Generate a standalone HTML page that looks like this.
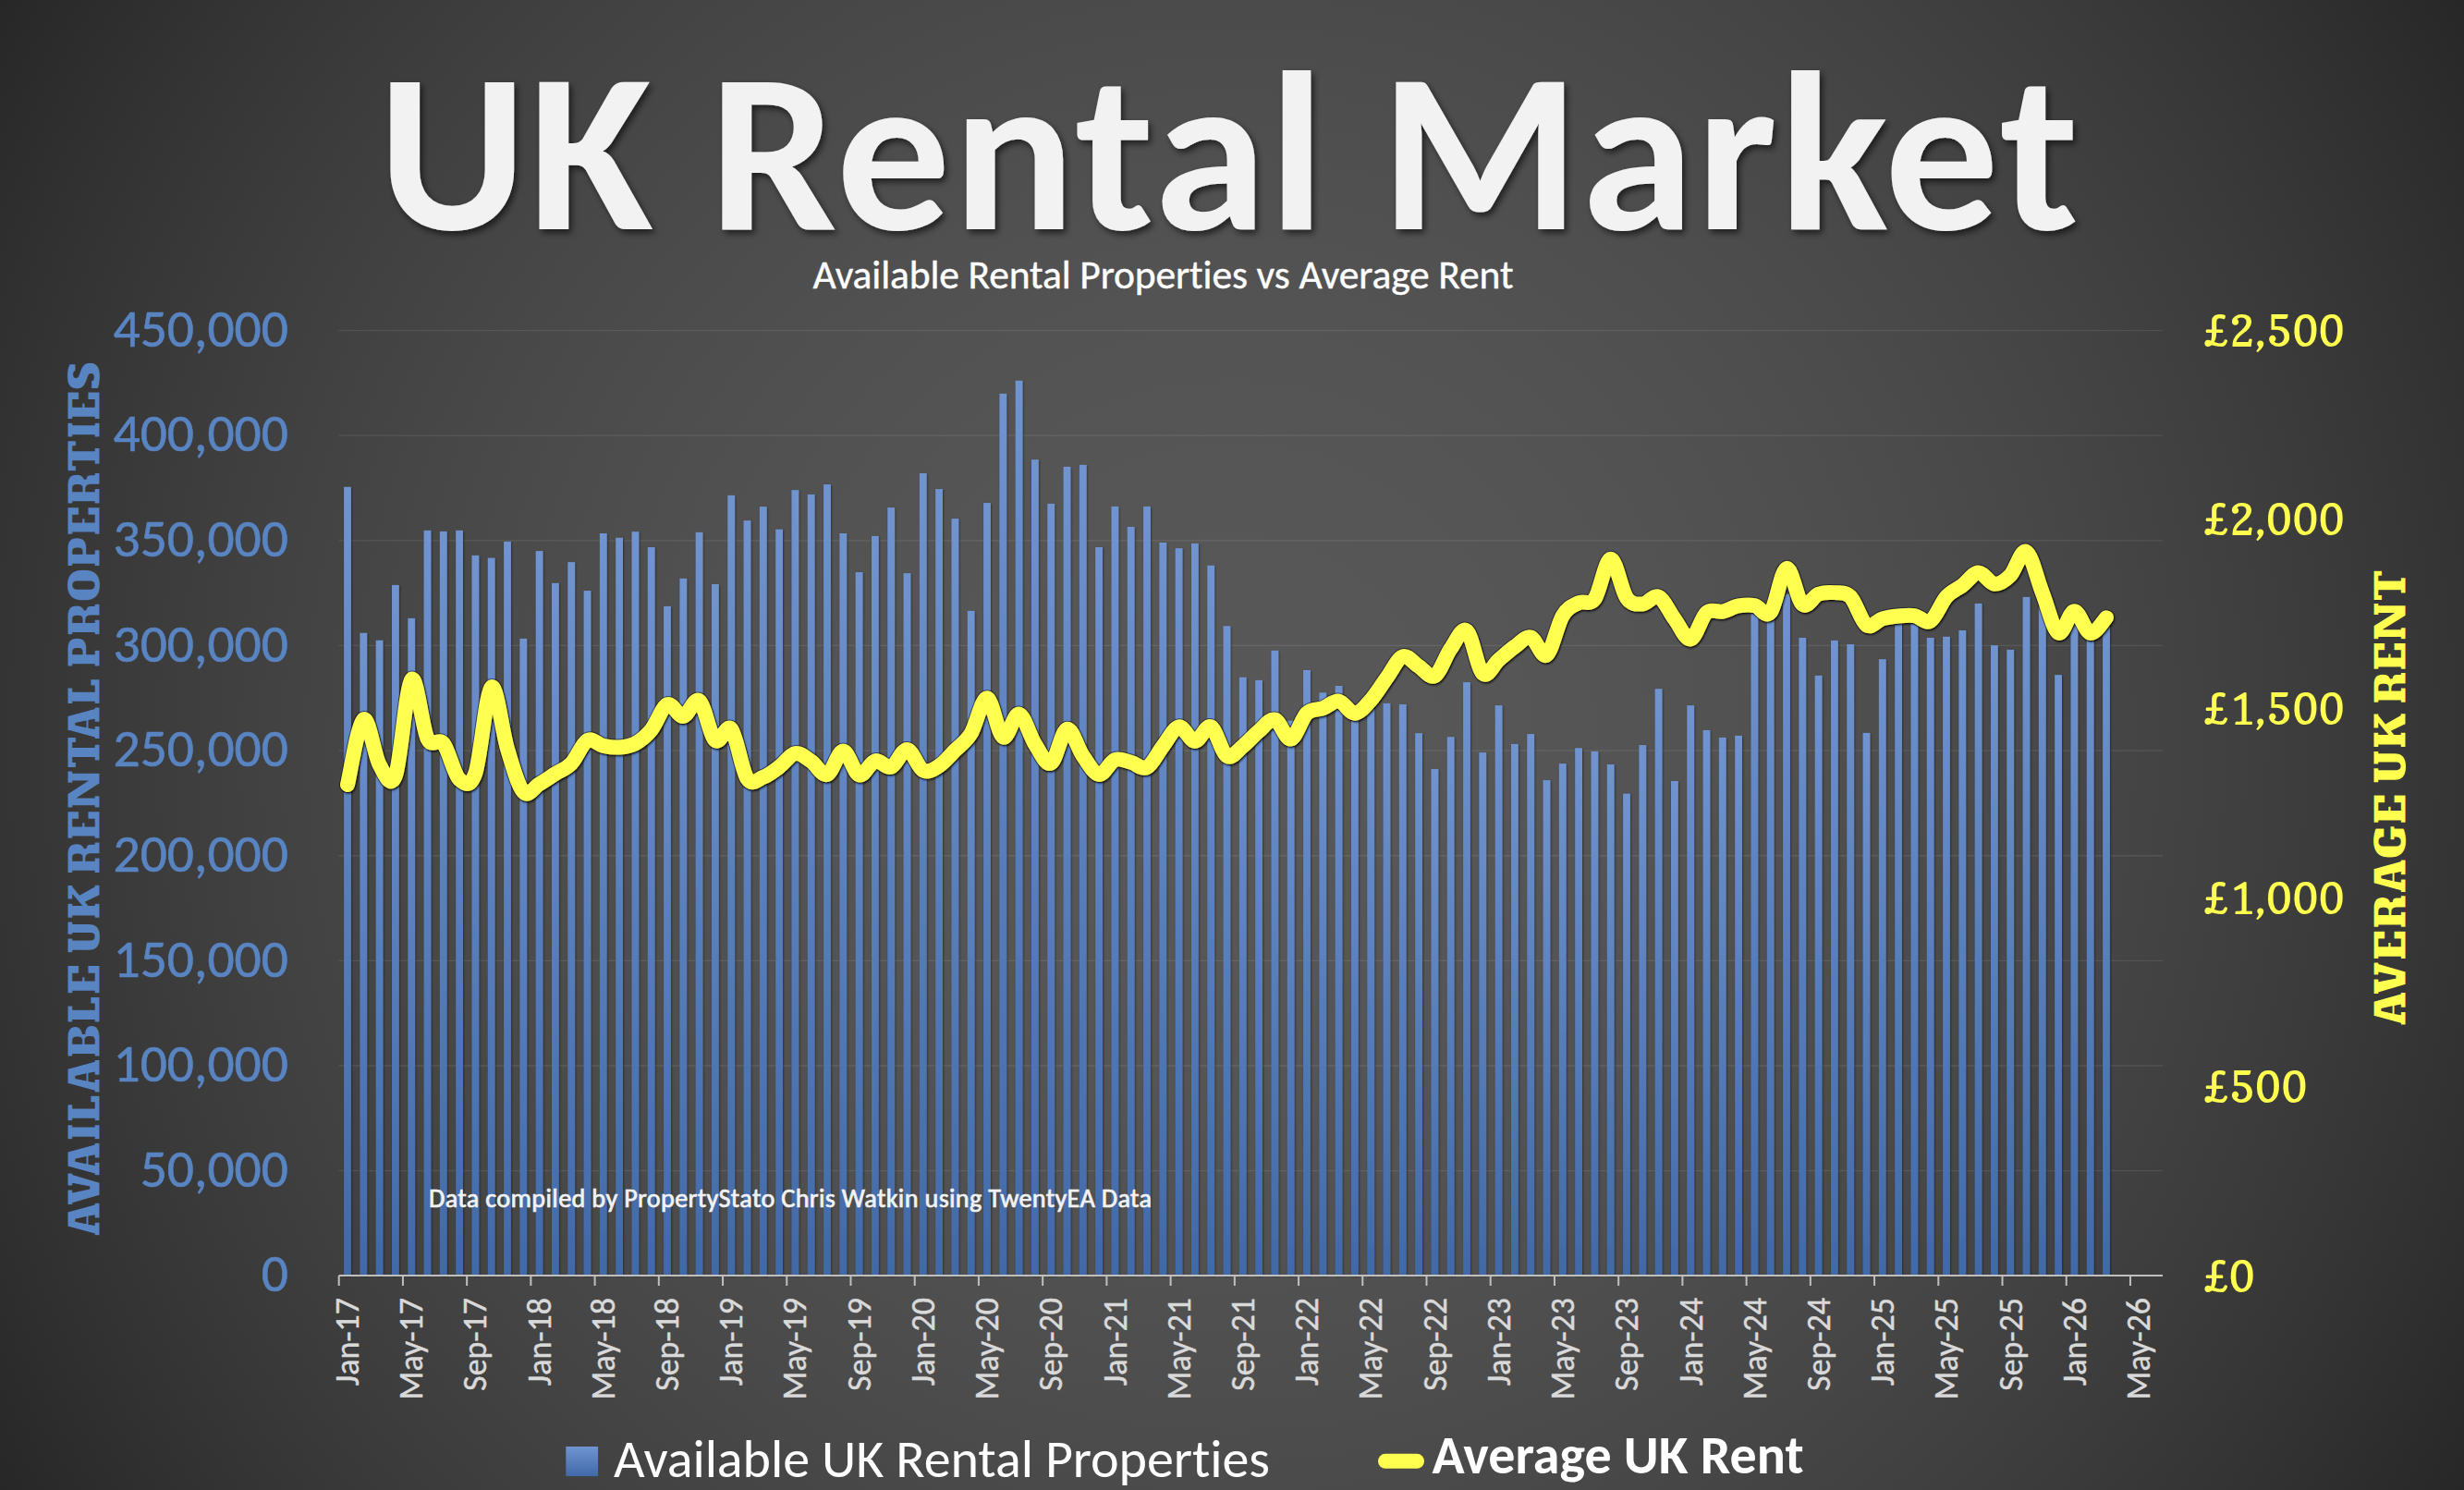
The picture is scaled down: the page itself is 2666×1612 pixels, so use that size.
<!DOCTYPE html>
<html><head><meta charset="utf-8"><title>UK Rental Market</title>
<style>
html,body{margin:0;padding:0;background:#2a2a2a;}
#page{position:relative;width:2666px;height:1612px;overflow:hidden;background:radial-gradient(circle at 1333px 806px, rgb(87.6,87.6,87.6) 0px, rgb(87.5,87.5,87.5) 80px, rgb(87.1,87.1,87.1) 160px, rgb(86.4,86.4,86.4) 240px, rgb(85.6,85.6,85.6) 320px, rgb(84.4,84.4,84.4) 400px, rgb(83.0,83.0,83.0) 480px, rgb(81.3,81.3,81.3) 560px, rgb(79.4,79.4,79.4) 640px, rgb(77.2,77.2,77.2) 720px, rgb(74.8,74.8,74.8) 800px, rgb(72.1,72.1,72.1) 880px, rgb(69.2,69.2,69.2) 960px, rgb(66.0,66.0,66.0) 1040px, rgb(62.5,62.5,62.5) 1120px, rgb(58.8,58.8,58.8) 1200px, rgb(54.8,54.8,54.8) 1280px, rgb(50.6,50.6,50.6) 1360px, rgb(46.1,46.1,46.1) 1440px, rgb(41.4,41.4,41.4) 1520px, rgb(36.4,36.4,36.4) 1600px);}
svg{position:absolute;left:0;top:0;}
text{font-kerning:normal;font-variant-ligatures:none;font-feature-settings:"liga" 0,"clig" 0;}
</style></head><body><div id="page">
<svg width="2666" height="1612" viewBox="0 0 2666 1612">
<defs>
<linearGradient id="gbar" x1="0" y1="0" x2="0" y2="1"><stop offset="0" stop-color="#7094d0"/><stop offset="1" stop-color="#4169a8"/></linearGradient>
<filter id="fbar" x="-50%" y="-5%" width="200%" height="110%"><feDropShadow dx="0.8" dy="1" stdDeviation="1.3" flood-color="#000" flood-opacity="0.45"/></filter>
<filter id="fline" x="-5%" y="-20%" width="110%" height="140%"><feDropShadow dx="1" dy="1.5" stdDeviation="1.2" flood-color="#000" flood-opacity="0.8"/></filter>
<filter id="ftitle" x="-5%" y="-20%" width="110%" height="140%"><feDropShadow dx="3" dy="4" stdDeviation="3.5" flood-color="#000" flood-opacity="0.6"/></filter>
<radialGradient id="gbg" gradientUnits="userSpaceOnUse" cx="1333" cy="806" r="1600"><stop offset="0.0000" stop-color="rgb(87.6,87.6,87.6)"/><stop offset="0.0500" stop-color="rgb(87.5,87.5,87.5)"/><stop offset="0.1000" stop-color="rgb(87.1,87.1,87.1)"/><stop offset="0.1500" stop-color="rgb(86.4,86.4,86.4)"/><stop offset="0.2000" stop-color="rgb(85.6,85.6,85.6)"/><stop offset="0.2500" stop-color="rgb(84.4,84.4,84.4)"/><stop offset="0.3000" stop-color="rgb(83.0,83.0,83.0)"/><stop offset="0.3500" stop-color="rgb(81.3,81.3,81.3)"/><stop offset="0.4000" stop-color="rgb(79.4,79.4,79.4)"/><stop offset="0.4500" stop-color="rgb(77.2,77.2,77.2)"/><stop offset="0.5000" stop-color="rgb(74.8,74.8,74.8)"/><stop offset="0.5500" stop-color="rgb(72.1,72.1,72.1)"/><stop offset="0.6000" stop-color="rgb(69.2,69.2,69.2)"/><stop offset="0.6500" stop-color="rgb(66.0,66.0,66.0)"/><stop offset="0.7000" stop-color="rgb(62.5,62.5,62.5)"/><stop offset="0.7500" stop-color="rgb(58.8,58.8,58.8)"/><stop offset="0.8000" stop-color="rgb(54.8,54.8,54.8)"/><stop offset="0.8500" stop-color="rgb(50.6,50.6,50.6)"/><stop offset="0.9000" stop-color="rgb(46.1,46.1,46.1)"/><stop offset="0.9500" stop-color="rgb(41.4,41.4,41.4)"/><stop offset="1.0000" stop-color="rgb(36.4,36.4,36.4)"/></radialGradient>
</defs>
<text x="409" y="248.4" font-family="Carlito, 'Liberation Sans', sans-serif" font-weight="bold" font-size="246" fill="#f2f2f2" textLength="1840" lengthAdjust="spacing" filter="url(#ftitle)">UK Rental Market</text>
<text x="879.5" y="311.9" font-family="Carlito, 'Liberation Sans', sans-serif" font-size="43.5" fill="#ffffff" stroke="#ffffff" stroke-width="0.4" textLength="758" lengthAdjust="spacing">Available Rental Properties vs Average Rent</text>
<path d="M366.7 1266.66H2340.0M366.7 1153.02H2340.0M366.7 1039.38H2340.0M366.7 925.74H2340.0M366.7 812.10H2340.0M366.7 698.46H2340.0M366.7 584.82H2340.0M366.7 471.18H2340.0M366.7 357.54H2340.0" stroke="#ffffff" stroke-opacity="0.09" stroke-width="1.3" fill="none"/>
<g fill="url(#gbar)" filter="url(#fbar)">
<rect x="372.10" y="526.79" width="7.8" height="853.21"/>
<rect x="389.40" y="684.75" width="7.8" height="695.25"/>
<rect x="406.70" y="692.71" width="7.8" height="687.29"/>
<rect x="424.00" y="632.93" width="7.8" height="747.07"/>
<rect x="441.30" y="668.84" width="7.8" height="711.16"/>
<rect x="458.60" y="573.84" width="7.8" height="806.16"/>
<rect x="475.90" y="574.97" width="7.8" height="805.03"/>
<rect x="493.20" y="573.84" width="7.8" height="806.16"/>
<rect x="510.50" y="600.88" width="7.8" height="779.12"/>
<rect x="527.80" y="603.61" width="7.8" height="776.39"/>
<rect x="545.10" y="585.88" width="7.8" height="794.12"/>
<rect x="562.40" y="690.89" width="7.8" height="689.11"/>
<rect x="579.70" y="596.11" width="7.8" height="783.89"/>
<rect x="597.00" y="630.89" width="7.8" height="749.11"/>
<rect x="614.30" y="608.16" width="7.8" height="771.84"/>
<rect x="631.60" y="639.07" width="7.8" height="740.93"/>
<rect x="648.90" y="577.02" width="7.8" height="802.98"/>
<rect x="666.20" y="581.79" width="7.8" height="798.21"/>
<rect x="683.50" y="575.20" width="7.8" height="804.80"/>
<rect x="700.80" y="592.02" width="7.8" height="787.98"/>
<rect x="718.10" y="655.89" width="7.8" height="724.11"/>
<rect x="735.40" y="625.88" width="7.8" height="754.12"/>
<rect x="752.70" y="575.88" width="7.8" height="804.12"/>
<rect x="770.00" y="632.02" width="7.8" height="747.98"/>
<rect x="787.30" y="535.88" width="7.8" height="844.12"/>
<rect x="804.60" y="563.16" width="7.8" height="816.84"/>
<rect x="821.90" y="548.16" width="7.8" height="831.84"/>
<rect x="839.20" y="572.70" width="7.8" height="807.30"/>
<rect x="856.50" y="530.20" width="7.8" height="849.80"/>
<rect x="873.80" y="534.97" width="7.8" height="845.03"/>
<rect x="891.10" y="524.06" width="7.8" height="855.94"/>
<rect x="908.40" y="577.02" width="7.8" height="802.98"/>
<rect x="925.70" y="619.07" width="7.8" height="760.93"/>
<rect x="943.00" y="579.97" width="7.8" height="800.03"/>
<rect x="960.30" y="549.06" width="7.8" height="830.94"/>
<rect x="977.60" y="620.20" width="7.8" height="759.80"/>
<rect x="994.90" y="512.02" width="7.8" height="867.98"/>
<rect x="1012.20" y="529.06" width="7.8" height="850.94"/>
<rect x="1029.50" y="561.11" width="7.8" height="818.89"/>
<rect x="1046.80" y="660.89" width="7.8" height="719.11"/>
<rect x="1064.10" y="544.06" width="7.8" height="835.94"/>
<rect x="1081.40" y="425.88" width="7.8" height="954.12"/>
<rect x="1098.70" y="411.79" width="7.8" height="968.21"/>
<rect x="1116.00" y="497.24" width="7.8" height="882.76"/>
<rect x="1133.30" y="544.97" width="7.8" height="835.03"/>
<rect x="1150.60" y="504.97" width="7.8" height="875.03"/>
<rect x="1167.90" y="502.93" width="7.8" height="877.07"/>
<rect x="1185.20" y="592.02" width="7.8" height="787.98"/>
<rect x="1202.50" y="547.93" width="7.8" height="832.07"/>
<rect x="1219.80" y="569.97" width="7.8" height="810.03"/>
<rect x="1237.10" y="547.93" width="7.8" height="832.07"/>
<rect x="1254.40" y="587.02" width="7.8" height="792.98"/>
<rect x="1271.70" y="593.16" width="7.8" height="786.84"/>
<rect x="1289.00" y="587.93" width="7.8" height="792.07"/>
<rect x="1306.30" y="611.79" width="7.8" height="768.21"/>
<rect x="1323.60" y="677.25" width="7.8" height="702.75"/>
<rect x="1340.90" y="732.71" width="7.8" height="647.29"/>
<rect x="1358.20" y="735.89" width="7.8" height="644.11"/>
<rect x="1375.50" y="703.84" width="7.8" height="676.16"/>
<rect x="1392.80" y="779.75" width="7.8" height="600.25"/>
<rect x="1410.10" y="724.98" width="7.8" height="655.02"/>
<rect x="1427.40" y="749.30" width="7.8" height="630.70"/>
<rect x="1444.70" y="742.03" width="7.8" height="637.97"/>
<rect x="1462.00" y="770.89" width="7.8" height="609.11"/>
<rect x="1479.30" y="766.34" width="7.8" height="613.66"/>
<rect x="1496.60" y="760.89" width="7.8" height="619.11"/>
<rect x="1513.90" y="762.03" width="7.8" height="617.97"/>
<rect x="1531.20" y="793.16" width="7.8" height="586.84"/>
<rect x="1548.50" y="832.03" width="7.8" height="547.97"/>
<rect x="1565.80" y="797.25" width="7.8" height="582.75"/>
<rect x="1583.10" y="738.16" width="7.8" height="641.84"/>
<rect x="1600.40" y="814.07" width="7.8" height="565.93"/>
<rect x="1617.70" y="763.16" width="7.8" height="616.84"/>
<rect x="1635.00" y="804.98" width="7.8" height="575.02"/>
<rect x="1652.30" y="794.07" width="7.8" height="585.93"/>
<rect x="1669.60" y="844.07" width="7.8" height="535.93"/>
<rect x="1686.90" y="826.12" width="7.8" height="553.88"/>
<rect x="1704.20" y="809.30" width="7.8" height="570.70"/>
<rect x="1721.50" y="812.94" width="7.8" height="567.06"/>
<rect x="1738.80" y="827.03" width="7.8" height="552.97"/>
<rect x="1756.10" y="858.62" width="7.8" height="521.38"/>
<rect x="1773.40" y="806.12" width="7.8" height="573.88"/>
<rect x="1790.70" y="745.21" width="7.8" height="634.79"/>
<rect x="1808.00" y="844.98" width="7.8" height="535.02"/>
<rect x="1825.30" y="763.16" width="7.8" height="616.84"/>
<rect x="1842.60" y="789.98" width="7.8" height="590.02"/>
<rect x="1859.90" y="797.94" width="7.8" height="582.06"/>
<rect x="1877.20" y="795.89" width="7.8" height="584.11"/>
<rect x="1894.50" y="654.98" width="7.8" height="725.02"/>
<rect x="1911.80" y="659.98" width="7.8" height="720.02"/>
<rect x="1929.10" y="642.70" width="7.8" height="737.30"/>
<rect x="1946.40" y="689.98" width="7.8" height="690.02"/>
<rect x="1963.70" y="730.89" width="7.8" height="649.11"/>
<rect x="1981.00" y="692.93" width="7.8" height="687.07"/>
<rect x="1998.30" y="697.02" width="7.8" height="682.98"/>
<rect x="2015.60" y="792.94" width="7.8" height="587.06"/>
<rect x="2032.90" y="713.16" width="7.8" height="666.84"/>
<rect x="2050.20" y="664.98" width="7.8" height="715.02"/>
<rect x="2067.50" y="664.98" width="7.8" height="715.02"/>
<rect x="2084.80" y="689.98" width="7.8" height="690.02"/>
<rect x="2102.10" y="688.84" width="7.8" height="691.16"/>
<rect x="2119.40" y="682.02" width="7.8" height="697.98"/>
<rect x="2136.70" y="652.93" width="7.8" height="727.07"/>
<rect x="2154.00" y="698.16" width="7.8" height="681.84"/>
<rect x="2171.30" y="702.93" width="7.8" height="677.07"/>
<rect x="2188.60" y="645.89" width="7.8" height="734.11"/>
<rect x="2205.90" y="657.25" width="7.8" height="722.75"/>
<rect x="2223.20" y="730.21" width="7.8" height="649.79"/>
<rect x="2240.50" y="664.98" width="7.8" height="715.02"/>
<rect x="2257.80" y="684.98" width="7.8" height="695.02"/>
<rect x="2275.10" y="669.98" width="7.8" height="710.02"/>
</g>
<path d="M366.7 1380.0H2340.0M366.70 1380.0V1391.0M435.92 1380.0V1391.0M505.15 1380.0V1391.0M574.37 1380.0V1391.0M643.60 1380.0V1391.0M712.82 1380.0V1391.0M782.04 1380.0V1391.0M851.27 1380.0V1391.0M920.49 1380.0V1391.0M989.72 1380.0V1391.0M1058.94 1380.0V1391.0M1128.16 1380.0V1391.0M1197.39 1380.0V1391.0M1266.61 1380.0V1391.0M1335.84 1380.0V1391.0M1405.06 1380.0V1391.0M1474.28 1380.0V1391.0M1543.51 1380.0V1391.0M1612.73 1380.0V1391.0M1681.96 1380.0V1391.0M1751.18 1380.0V1391.0M1820.40 1380.0V1391.0M1889.63 1380.0V1391.0M1958.85 1380.0V1391.0M2028.08 1380.0V1391.0M2097.30 1380.0V1391.0M2166.52 1380.0V1391.0M2235.75 1380.0V1391.0M2304.97 1380.0V1391.0" stroke="#bfbfbf" stroke-width="2" fill="none"/>
<g font-family="Carlito, 'Liberation Sans', sans-serif" font-size="36" fill="#d9d9d9" stroke="#d9d9d9" stroke-width="0.45" text-anchor="end">
<text transform="translate(387.85 1404) rotate(-90)" textLength="95.16" lengthAdjust="spacingAndGlyphs">Jan-17</text>
<text transform="translate(457.08 1404) rotate(-90)" textLength="110.38" lengthAdjust="spacingAndGlyphs">May-17</text>
<text transform="translate(526.30 1404) rotate(-90)" textLength="100.89" lengthAdjust="spacingAndGlyphs">Sep-17</text>
<text transform="translate(595.52 1404) rotate(-90)" textLength="95.16" lengthAdjust="spacingAndGlyphs">Jan-18</text>
<text transform="translate(664.75 1404) rotate(-90)" textLength="110.38" lengthAdjust="spacingAndGlyphs">May-18</text>
<text transform="translate(733.97 1404) rotate(-90)" textLength="100.89" lengthAdjust="spacingAndGlyphs">Sep-18</text>
<text transform="translate(803.20 1404) rotate(-90)" textLength="95.16" lengthAdjust="spacingAndGlyphs">Jan-19</text>
<text transform="translate(872.42 1404) rotate(-90)" textLength="110.38" lengthAdjust="spacingAndGlyphs">May-19</text>
<text transform="translate(941.64 1404) rotate(-90)" textLength="100.89" lengthAdjust="spacingAndGlyphs">Sep-19</text>
<text transform="translate(1010.87 1404) rotate(-90)" textLength="95.16" lengthAdjust="spacingAndGlyphs">Jan-20</text>
<text transform="translate(1080.09 1404) rotate(-90)" textLength="110.38" lengthAdjust="spacingAndGlyphs">May-20</text>
<text transform="translate(1149.32 1404) rotate(-90)" textLength="100.89" lengthAdjust="spacingAndGlyphs">Sep-20</text>
<text transform="translate(1218.54 1404) rotate(-90)" textLength="95.16" lengthAdjust="spacingAndGlyphs">Jan-21</text>
<text transform="translate(1287.77 1404) rotate(-90)" textLength="110.38" lengthAdjust="spacingAndGlyphs">May-21</text>
<text transform="translate(1356.99 1404) rotate(-90)" textLength="100.89" lengthAdjust="spacingAndGlyphs">Sep-21</text>
<text transform="translate(1426.21 1404) rotate(-90)" textLength="95.16" lengthAdjust="spacingAndGlyphs">Jan-22</text>
<text transform="translate(1495.44 1404) rotate(-90)" textLength="110.38" lengthAdjust="spacingAndGlyphs">May-22</text>
<text transform="translate(1564.66 1404) rotate(-90)" textLength="100.89" lengthAdjust="spacingAndGlyphs">Sep-22</text>
<text transform="translate(1633.89 1404) rotate(-90)" textLength="95.16" lengthAdjust="spacingAndGlyphs">Jan-23</text>
<text transform="translate(1703.11 1404) rotate(-90)" textLength="110.38" lengthAdjust="spacingAndGlyphs">May-23</text>
<text transform="translate(1772.33 1404) rotate(-90)" textLength="100.89" lengthAdjust="spacingAndGlyphs">Sep-23</text>
<text transform="translate(1841.56 1404) rotate(-90)" textLength="95.16" lengthAdjust="spacingAndGlyphs">Jan-24</text>
<text transform="translate(1910.78 1404) rotate(-90)" textLength="110.38" lengthAdjust="spacingAndGlyphs">May-24</text>
<text transform="translate(1980.01 1404) rotate(-90)" textLength="100.89" lengthAdjust="spacingAndGlyphs">Sep-24</text>
<text transform="translate(2049.23 1404) rotate(-90)" textLength="95.16" lengthAdjust="spacingAndGlyphs">Jan-25</text>
<text transform="translate(2118.45 1404) rotate(-90)" textLength="110.38" lengthAdjust="spacingAndGlyphs">May-25</text>
<text transform="translate(2187.68 1404) rotate(-90)" textLength="100.89" lengthAdjust="spacingAndGlyphs">Sep-25</text>
<text transform="translate(2256.90 1404) rotate(-90)" textLength="95.16" lengthAdjust="spacingAndGlyphs">Jan-26</text>
<text transform="translate(2326.12 1404) rotate(-90)" textLength="110.38" lengthAdjust="spacingAndGlyphs">May-26</text>
</g>
<g font-family="Carlito, 'Liberation Sans', sans-serif" font-size="57.6" fill="#5984c2" stroke="#5984c2" stroke-width="0.6" text-anchor="end">
<text x="312" y="1397.4" textLength="29.20" lengthAdjust="spacingAndGlyphs">0</text>
<text x="312" y="1283.8" textLength="160.33" lengthAdjust="spacingAndGlyphs">50,000</text>
<text x="312" y="1170.1" textLength="189.52" lengthAdjust="spacingAndGlyphs">100,000</text>
<text x="312" y="1056.5" textLength="189.52" lengthAdjust="spacingAndGlyphs">150,000</text>
<text x="312" y="942.8" textLength="189.52" lengthAdjust="spacingAndGlyphs">200,000</text>
<text x="312" y="829.2" textLength="189.52" lengthAdjust="spacingAndGlyphs">250,000</text>
<text x="312" y="715.6" textLength="189.52" lengthAdjust="spacingAndGlyphs">300,000</text>
<text x="312" y="601.9" textLength="189.52" lengthAdjust="spacingAndGlyphs">350,000</text>
<text x="312" y="488.3" textLength="189.52" lengthAdjust="spacingAndGlyphs">400,000</text>
<text x="312" y="374.6" textLength="189.52" lengthAdjust="spacingAndGlyphs">450,000</text>
</g>
<g font-family="'American Typewriter', Copse, 'DejaVu Serif', 'Liberation Serif', serif" font-size="48.4" fill="#ffff4f">
<text x="2384" y="1397.6" textLength="55.86" lengthAdjust="spacingAndGlyphs">£0</text>
<text x="2384" y="1193.0" textLength="112.58" lengthAdjust="spacingAndGlyphs">£500</text>
<text x="2384" y="988.5" textLength="152.86" lengthAdjust="spacingAndGlyphs">£1,000</text>
<text x="2384" y="783.9" textLength="152.86" lengthAdjust="spacingAndGlyphs">£1,500</text>
<text x="2384" y="579.4" textLength="152.86" lengthAdjust="spacingAndGlyphs">£2,000</text>
<text x="2384" y="374.8" textLength="152.86" lengthAdjust="spacingAndGlyphs">£2,500</text>
</g>
<radialGradient id="gt1" gradientUnits="userSpaceOnUse" cx="532.3" cy="1224.4" r="1600"><stop offset="0.0000" stop-color="rgb(87.6,87.6,87.6)"/><stop offset="0.0500" stop-color="rgb(87.5,87.5,87.5)"/><stop offset="0.1000" stop-color="rgb(87.1,87.1,87.1)"/><stop offset="0.1500" stop-color="rgb(86.4,86.4,86.4)"/><stop offset="0.2000" stop-color="rgb(85.6,85.6,85.6)"/><stop offset="0.2500" stop-color="rgb(84.4,84.4,84.4)"/><stop offset="0.3000" stop-color="rgb(83.0,83.0,83.0)"/><stop offset="0.3500" stop-color="rgb(81.3,81.3,81.3)"/><stop offset="0.4000" stop-color="rgb(79.4,79.4,79.4)"/><stop offset="0.4500" stop-color="rgb(77.2,77.2,77.2)"/><stop offset="0.5000" stop-color="rgb(74.8,74.8,74.8)"/><stop offset="0.5500" stop-color="rgb(72.1,72.1,72.1)"/><stop offset="0.6000" stop-color="rgb(69.2,69.2,69.2)"/><stop offset="0.6500" stop-color="rgb(66.0,66.0,66.0)"/><stop offset="0.7000" stop-color="rgb(62.5,62.5,62.5)"/><stop offset="0.7500" stop-color="rgb(58.8,58.8,58.8)"/><stop offset="0.8000" stop-color="rgb(54.8,54.8,54.8)"/><stop offset="0.8500" stop-color="rgb(50.6,50.6,50.6)"/><stop offset="0.9000" stop-color="rgb(46.1,46.1,46.1)"/><stop offset="0.9500" stop-color="rgb(41.4,41.4,41.4)"/><stop offset="1.0000" stop-color="rgb(36.4,36.4,36.4)"/></radialGradient>
<text transform="translate(108.6 1338.3) rotate(-90)" font-family="'Rockwell Extra Bold', Rockwell, 'Alfa Slab One', 'DejaVu Serif', serif" font-weight="bold" style="font-synthesis:none" font-size="47.0" fill="#5984c2" stroke="url(#gt1)" stroke-width="3.0" stroke-linejoin="miter" textLength="295.62" lengthAdjust="spacingAndGlyphs">AVAILABLE</text>
<radialGradient id="gt2" gradientUnits="userSpaceOnUse" cx="226.4" cy="1224.4" r="1600"><stop offset="0.0000" stop-color="rgb(87.6,87.6,87.6)"/><stop offset="0.0500" stop-color="rgb(87.5,87.5,87.5)"/><stop offset="0.1000" stop-color="rgb(87.1,87.1,87.1)"/><stop offset="0.1500" stop-color="rgb(86.4,86.4,86.4)"/><stop offset="0.2000" stop-color="rgb(85.6,85.6,85.6)"/><stop offset="0.2500" stop-color="rgb(84.4,84.4,84.4)"/><stop offset="0.3000" stop-color="rgb(83.0,83.0,83.0)"/><stop offset="0.3500" stop-color="rgb(81.3,81.3,81.3)"/><stop offset="0.4000" stop-color="rgb(79.4,79.4,79.4)"/><stop offset="0.4500" stop-color="rgb(77.2,77.2,77.2)"/><stop offset="0.5000" stop-color="rgb(74.8,74.8,74.8)"/><stop offset="0.5500" stop-color="rgb(72.1,72.1,72.1)"/><stop offset="0.6000" stop-color="rgb(69.2,69.2,69.2)"/><stop offset="0.6500" stop-color="rgb(66.0,66.0,66.0)"/><stop offset="0.7000" stop-color="rgb(62.5,62.5,62.5)"/><stop offset="0.7500" stop-color="rgb(58.8,58.8,58.8)"/><stop offset="0.8000" stop-color="rgb(54.8,54.8,54.8)"/><stop offset="0.8500" stop-color="rgb(50.6,50.6,50.6)"/><stop offset="0.9000" stop-color="rgb(46.1,46.1,46.1)"/><stop offset="0.9500" stop-color="rgb(41.4,41.4,41.4)"/><stop offset="1.0000" stop-color="rgb(36.4,36.4,36.4)"/></radialGradient>
<text transform="translate(108.6 1032.4) rotate(-90)" font-family="'Rockwell Extra Bold', Rockwell, 'Alfa Slab One', 'DejaVu Serif', serif" font-weight="bold" style="font-synthesis:none" font-size="47.0" fill="#5984c2" stroke="url(#gt2)" stroke-width="3.0" stroke-linejoin="miter" textLength="77.12" lengthAdjust="spacingAndGlyphs">UK</text>
<radialGradient id="gt3" gradientUnits="userSpaceOnUse" cx="140.6" cy="1224.4" r="1600"><stop offset="0.0000" stop-color="rgb(87.6,87.6,87.6)"/><stop offset="0.0500" stop-color="rgb(87.5,87.5,87.5)"/><stop offset="0.1000" stop-color="rgb(87.1,87.1,87.1)"/><stop offset="0.1500" stop-color="rgb(86.4,86.4,86.4)"/><stop offset="0.2000" stop-color="rgb(85.6,85.6,85.6)"/><stop offset="0.2500" stop-color="rgb(84.4,84.4,84.4)"/><stop offset="0.3000" stop-color="rgb(83.0,83.0,83.0)"/><stop offset="0.3500" stop-color="rgb(81.3,81.3,81.3)"/><stop offset="0.4000" stop-color="rgb(79.4,79.4,79.4)"/><stop offset="0.4500" stop-color="rgb(77.2,77.2,77.2)"/><stop offset="0.5000" stop-color="rgb(74.8,74.8,74.8)"/><stop offset="0.5500" stop-color="rgb(72.1,72.1,72.1)"/><stop offset="0.6000" stop-color="rgb(69.2,69.2,69.2)"/><stop offset="0.6500" stop-color="rgb(66.0,66.0,66.0)"/><stop offset="0.7000" stop-color="rgb(62.5,62.5,62.5)"/><stop offset="0.7500" stop-color="rgb(58.8,58.8,58.8)"/><stop offset="0.8000" stop-color="rgb(54.8,54.8,54.8)"/><stop offset="0.8500" stop-color="rgb(50.6,50.6,50.6)"/><stop offset="0.9000" stop-color="rgb(46.1,46.1,46.1)"/><stop offset="0.9500" stop-color="rgb(41.4,41.4,41.4)"/><stop offset="1.0000" stop-color="rgb(36.4,36.4,36.4)"/></radialGradient>
<text transform="translate(108.6 946.6) rotate(-90)" font-family="'Rockwell Extra Bold', Rockwell, 'Alfa Slab One', 'DejaVu Serif', serif" font-weight="bold" style="font-synthesis:none" font-size="47.0" fill="#5984c2" stroke="url(#gt3)" stroke-width="3.0" stroke-linejoin="miter" textLength="213.61" lengthAdjust="spacingAndGlyphs">RENTAL</text>
<radialGradient id="gt4" gradientUnits="userSpaceOnUse" cx="-82.9" cy="1224.4" r="1600"><stop offset="0.0000" stop-color="rgb(87.6,87.6,87.6)"/><stop offset="0.0500" stop-color="rgb(87.5,87.5,87.5)"/><stop offset="0.1000" stop-color="rgb(87.1,87.1,87.1)"/><stop offset="0.1500" stop-color="rgb(86.4,86.4,86.4)"/><stop offset="0.2000" stop-color="rgb(85.6,85.6,85.6)"/><stop offset="0.2500" stop-color="rgb(84.4,84.4,84.4)"/><stop offset="0.3000" stop-color="rgb(83.0,83.0,83.0)"/><stop offset="0.3500" stop-color="rgb(81.3,81.3,81.3)"/><stop offset="0.4000" stop-color="rgb(79.4,79.4,79.4)"/><stop offset="0.4500" stop-color="rgb(77.2,77.2,77.2)"/><stop offset="0.5000" stop-color="rgb(74.8,74.8,74.8)"/><stop offset="0.5500" stop-color="rgb(72.1,72.1,72.1)"/><stop offset="0.6000" stop-color="rgb(69.2,69.2,69.2)"/><stop offset="0.6500" stop-color="rgb(66.0,66.0,66.0)"/><stop offset="0.7000" stop-color="rgb(62.5,62.5,62.5)"/><stop offset="0.7500" stop-color="rgb(58.8,58.8,58.8)"/><stop offset="0.8000" stop-color="rgb(54.8,54.8,54.8)"/><stop offset="0.8500" stop-color="rgb(50.6,50.6,50.6)"/><stop offset="0.9000" stop-color="rgb(46.1,46.1,46.1)"/><stop offset="0.9500" stop-color="rgb(41.4,41.4,41.4)"/><stop offset="1.0000" stop-color="rgb(36.4,36.4,36.4)"/></radialGradient>
<text transform="translate(108.6 723.1) rotate(-90)" font-family="'Rockwell Extra Bold', Rockwell, 'Alfa Slab One', 'DejaVu Serif', serif" font-weight="bold" style="font-synthesis:none" font-size="47.0" fill="#5984c2" stroke="url(#gt4)" stroke-width="3.0" stroke-linejoin="miter" textLength="332.20" lengthAdjust="spacingAndGlyphs">PROPERTIES</text>
<radialGradient id="gt5" gradientUnits="userSpaceOnUse" cx="304.4" cy="-1271.3" r="1600"><stop offset="0.0000" stop-color="rgb(87.6,87.6,87.6)"/><stop offset="0.0500" stop-color="rgb(87.5,87.5,87.5)"/><stop offset="0.1000" stop-color="rgb(87.1,87.1,87.1)"/><stop offset="0.1500" stop-color="rgb(86.4,86.4,86.4)"/><stop offset="0.2000" stop-color="rgb(85.6,85.6,85.6)"/><stop offset="0.2500" stop-color="rgb(84.4,84.4,84.4)"/><stop offset="0.3000" stop-color="rgb(83.0,83.0,83.0)"/><stop offset="0.3500" stop-color="rgb(81.3,81.3,81.3)"/><stop offset="0.4000" stop-color="rgb(79.4,79.4,79.4)"/><stop offset="0.4500" stop-color="rgb(77.2,77.2,77.2)"/><stop offset="0.5000" stop-color="rgb(74.8,74.8,74.8)"/><stop offset="0.5500" stop-color="rgb(72.1,72.1,72.1)"/><stop offset="0.6000" stop-color="rgb(69.2,69.2,69.2)"/><stop offset="0.6500" stop-color="rgb(66.0,66.0,66.0)"/><stop offset="0.7000" stop-color="rgb(62.5,62.5,62.5)"/><stop offset="0.7500" stop-color="rgb(58.8,58.8,58.8)"/><stop offset="0.8000" stop-color="rgb(54.8,54.8,54.8)"/><stop offset="0.8500" stop-color="rgb(50.6,50.6,50.6)"/><stop offset="0.9000" stop-color="rgb(46.1,46.1,46.1)"/><stop offset="0.9500" stop-color="rgb(41.4,41.4,41.4)"/><stop offset="1.0000" stop-color="rgb(36.4,36.4,36.4)"/></radialGradient>
<text transform="translate(2604.3 1110.4) rotate(-90)" font-family="'Rockwell Extra Bold', Rockwell, 'Alfa Slab One', 'DejaVu Serif', serif" font-weight="bold" style="font-synthesis:none" font-size="47.8" fill="#ffff4f" stroke="url(#gt5)" stroke-width="3.0" stroke-linejoin="miter" textLength="252.20" lengthAdjust="spacingAndGlyphs">AVERAGE</text>
<radialGradient id="gt6" gradientUnits="userSpaceOnUse" cx="42.5" cy="-1271.3" r="1600"><stop offset="0.0000" stop-color="rgb(87.6,87.6,87.6)"/><stop offset="0.0500" stop-color="rgb(87.5,87.5,87.5)"/><stop offset="0.1000" stop-color="rgb(87.1,87.1,87.1)"/><stop offset="0.1500" stop-color="rgb(86.4,86.4,86.4)"/><stop offset="0.2000" stop-color="rgb(85.6,85.6,85.6)"/><stop offset="0.2500" stop-color="rgb(84.4,84.4,84.4)"/><stop offset="0.3000" stop-color="rgb(83.0,83.0,83.0)"/><stop offset="0.3500" stop-color="rgb(81.3,81.3,81.3)"/><stop offset="0.4000" stop-color="rgb(79.4,79.4,79.4)"/><stop offset="0.4500" stop-color="rgb(77.2,77.2,77.2)"/><stop offset="0.5000" stop-color="rgb(74.8,74.8,74.8)"/><stop offset="0.5500" stop-color="rgb(72.1,72.1,72.1)"/><stop offset="0.6000" stop-color="rgb(69.2,69.2,69.2)"/><stop offset="0.6500" stop-color="rgb(66.0,66.0,66.0)"/><stop offset="0.7000" stop-color="rgb(62.5,62.5,62.5)"/><stop offset="0.7500" stop-color="rgb(58.8,58.8,58.8)"/><stop offset="0.8000" stop-color="rgb(54.8,54.8,54.8)"/><stop offset="0.8500" stop-color="rgb(50.6,50.6,50.6)"/><stop offset="0.9000" stop-color="rgb(46.1,46.1,46.1)"/><stop offset="0.9500" stop-color="rgb(41.4,41.4,41.4)"/><stop offset="1.0000" stop-color="rgb(36.4,36.4,36.4)"/></radialGradient>
<text transform="translate(2604.3 848.5) rotate(-90)" font-family="'Rockwell Extra Bold', Rockwell, 'Alfa Slab One', 'DejaVu Serif', serif" font-weight="bold" style="font-synthesis:none" font-size="47.8" fill="#ffff4f" stroke="url(#gt6)" stroke-width="3.0" stroke-linejoin="miter" textLength="78.49" lengthAdjust="spacingAndGlyphs">UK</text>
<radialGradient id="gt7" gradientUnits="userSpaceOnUse" cx="-43.9" cy="-1271.3" r="1600"><stop offset="0.0000" stop-color="rgb(87.6,87.6,87.6)"/><stop offset="0.0500" stop-color="rgb(87.5,87.5,87.5)"/><stop offset="0.1000" stop-color="rgb(87.1,87.1,87.1)"/><stop offset="0.1500" stop-color="rgb(86.4,86.4,86.4)"/><stop offset="0.2000" stop-color="rgb(85.6,85.6,85.6)"/><stop offset="0.2500" stop-color="rgb(84.4,84.4,84.4)"/><stop offset="0.3000" stop-color="rgb(83.0,83.0,83.0)"/><stop offset="0.3500" stop-color="rgb(81.3,81.3,81.3)"/><stop offset="0.4000" stop-color="rgb(79.4,79.4,79.4)"/><stop offset="0.4500" stop-color="rgb(77.2,77.2,77.2)"/><stop offset="0.5000" stop-color="rgb(74.8,74.8,74.8)"/><stop offset="0.5500" stop-color="rgb(72.1,72.1,72.1)"/><stop offset="0.6000" stop-color="rgb(69.2,69.2,69.2)"/><stop offset="0.6500" stop-color="rgb(66.0,66.0,66.0)"/><stop offset="0.7000" stop-color="rgb(62.5,62.5,62.5)"/><stop offset="0.7500" stop-color="rgb(58.8,58.8,58.8)"/><stop offset="0.8000" stop-color="rgb(54.8,54.8,54.8)"/><stop offset="0.8500" stop-color="rgb(50.6,50.6,50.6)"/><stop offset="0.9000" stop-color="rgb(46.1,46.1,46.1)"/><stop offset="0.9500" stop-color="rgb(41.4,41.4,41.4)"/><stop offset="1.0000" stop-color="rgb(36.4,36.4,36.4)"/></radialGradient>
<text transform="translate(2604.3 762.1) rotate(-90)" font-family="'Rockwell Extra Bold', Rockwell, 'Alfa Slab One', 'DejaVu Serif', serif" font-weight="bold" style="font-synthesis:none" font-size="47.8" fill="#ffff4f" stroke="url(#gt7)" stroke-width="3.0" stroke-linejoin="miter" textLength="146.44" lengthAdjust="spacingAndGlyphs">RENT</text>
<path d="M376.00 848.96C378.88 837.17 387.53 781.80 393.30 778.18C399.07 774.57 404.83 817.12 410.60 827.28C416.37 837.44 422.13 854.49 427.90 839.14C433.67 823.80 439.43 741.91 445.20 735.23C450.97 728.54 456.73 787.53 462.50 799.05C468.27 810.57 474.03 797.00 479.80 804.37C485.57 811.73 491.33 837.92 497.10 843.23C502.87 848.55 508.63 852.92 514.40 836.28C520.17 819.64 525.93 747.77 531.70 743.41C537.47 739.05 543.23 791.21 549.00 810.10C554.77 828.98 560.53 850.39 566.30 856.74C572.07 863.08 577.83 851.42 583.60 848.14C589.37 844.87 595.13 840.78 600.90 837.10C606.67 833.42 612.43 832.05 618.20 826.05C623.97 820.05 629.73 804.30 635.50 801.10C641.27 797.89 647.03 805.60 652.80 806.82C658.57 808.05 664.33 808.87 670.10 808.46C675.87 808.05 681.63 807.50 687.40 804.37C693.17 801.23 698.93 796.66 704.70 789.64C710.47 782.62 716.23 764.68 722.00 762.23C727.77 759.77 733.53 775.59 739.30 774.91C745.07 774.23 750.83 753.77 756.60 758.14C762.37 762.50 768.13 795.98 773.90 801.10C779.67 806.21 785.43 781.93 791.20 788.82C796.97 795.71 802.73 833.76 808.50 842.42C814.27 851.08 820.03 842.89 825.80 840.78C831.57 838.67 837.33 834.03 843.10 829.73C848.87 825.44 854.63 816.03 860.40 815.01C866.17 813.98 871.93 819.78 877.70 823.60C883.47 827.42 889.23 839.76 895.00 837.92C900.77 836.07 906.53 812.48 912.30 812.55C918.07 812.62 923.83 836.55 929.60 838.33C935.37 840.10 941.13 824.62 946.90 823.19C952.67 821.76 958.43 831.78 964.20 829.73C969.97 827.69 975.73 810.30 981.50 810.91C987.27 811.53 993.03 830.48 998.80 833.42C1004.57 836.35 1010.33 832.12 1016.10 828.51C1021.87 824.89 1027.63 817.60 1033.40 811.73C1039.17 805.87 1044.93 802.73 1050.70 793.32C1056.47 783.91 1062.23 754.59 1068.00 755.27C1073.77 755.96 1079.53 794.55 1085.30 797.41C1091.07 800.28 1096.83 771.16 1102.60 772.46C1108.37 773.75 1114.13 796.32 1119.90 805.19C1125.67 814.05 1131.43 828.37 1137.20 825.64C1142.97 822.91 1148.73 790.12 1154.50 788.82C1160.27 787.53 1166.03 809.69 1171.80 817.87C1177.57 826.05 1183.33 837.23 1189.10 837.92C1194.87 838.60 1200.63 824.14 1206.40 821.96C1212.17 819.78 1217.93 823.46 1223.70 824.82C1229.47 826.19 1235.23 833.07 1241.00 830.14C1246.77 827.21 1252.53 814.53 1258.30 807.23C1264.07 799.94 1269.83 787.25 1275.60 786.37C1281.37 785.48 1287.13 801.91 1292.90 801.91C1298.67 801.91 1304.43 783.71 1310.20 786.37C1315.97 789.03 1321.73 814.39 1327.50 817.87C1333.27 821.35 1339.03 811.73 1344.80 807.23C1350.57 802.73 1356.33 795.64 1362.10 790.87C1367.87 786.09 1373.63 777.16 1379.40 778.59C1385.17 780.03 1390.93 800.62 1396.70 799.46C1402.47 798.30 1408.23 777.16 1414.00 771.64C1419.77 766.12 1425.53 768.50 1431.30 766.32C1437.07 764.14 1442.83 757.66 1448.60 758.55C1454.37 759.43 1460.13 771.84 1465.90 771.64C1471.67 771.43 1477.43 763.73 1483.20 757.32C1488.97 750.91 1494.73 741.02 1500.50 733.18C1506.27 725.34 1512.03 712.32 1517.80 710.27C1523.57 708.22 1529.33 717.43 1535.10 720.91C1540.87 724.39 1546.63 734.34 1552.40 731.14C1558.17 727.93 1563.93 709.79 1569.70 701.68C1575.47 693.56 1581.23 677.95 1587.00 682.45C1592.77 686.95 1598.53 723.43 1604.30 728.68C1610.07 733.93 1615.83 718.79 1621.60 713.95C1627.37 709.11 1633.13 703.72 1638.90 699.63C1644.67 695.54 1650.43 687.91 1656.20 689.41C1661.97 690.91 1667.73 712.52 1673.50 708.63C1679.27 704.75 1685.03 675.50 1690.80 666.09C1696.57 656.68 1702.33 655.18 1708.10 652.18C1713.87 649.18 1719.63 655.99 1725.40 648.08C1731.17 640.17 1736.93 604.92 1742.70 604.72C1748.47 604.51 1754.23 638.74 1760.00 646.86C1765.77 654.97 1771.53 653.61 1777.30 653.40C1783.07 653.20 1788.83 642.90 1794.60 645.63C1800.37 648.36 1806.13 662.13 1811.90 669.77C1817.67 677.40 1823.43 692.61 1829.20 691.45C1834.97 690.29 1840.73 667.79 1846.50 662.81C1852.27 657.84 1858.03 662.81 1863.80 661.59C1869.57 660.36 1875.33 656.54 1881.10 655.45C1886.87 654.36 1892.63 653.88 1898.40 655.04C1904.17 656.20 1909.93 669.09 1915.70 662.40C1921.47 655.72 1927.23 616.38 1933.00 614.95C1938.77 613.51 1944.53 649.18 1950.30 653.81C1956.07 658.45 1961.83 644.88 1967.60 642.77C1973.37 640.65 1979.13 640.65 1984.90 641.13C1990.67 641.61 1996.43 639.77 2002.20 645.63C2007.97 651.49 2013.73 672.36 2019.50 676.31C2025.27 680.27 2031.03 671.00 2036.80 669.36C2042.57 667.72 2048.33 667.04 2054.10 666.49C2059.87 665.95 2065.63 665.20 2071.40 666.09C2077.17 666.97 2082.93 675.22 2088.70 671.81C2094.47 668.40 2100.23 652.04 2106.00 645.63C2111.77 639.22 2117.53 637.72 2123.30 633.36C2129.07 628.99 2134.83 619.72 2140.60 619.45C2146.37 619.17 2152.13 631.24 2157.90 631.72C2163.67 632.20 2169.43 628.11 2175.20 622.31C2180.97 616.51 2186.73 593.81 2192.50 596.94C2198.27 600.08 2204.03 626.54 2209.80 641.13C2215.57 655.72 2221.33 681.15 2227.10 684.50C2232.87 687.84 2238.63 661.11 2244.40 661.18C2250.17 661.24 2255.93 683.75 2261.70 684.91C2267.47 686.06 2276.12 670.93 2279.00 668.13" stroke="#0a0a1e" stroke-opacity="0.55" stroke-width="18" fill="none" stroke-linecap="round" stroke-linejoin="round"/>
<path d="M376.00 848.96C378.88 837.17 387.53 781.80 393.30 778.18C399.07 774.57 404.83 817.12 410.60 827.28C416.37 837.44 422.13 854.49 427.90 839.14C433.67 823.80 439.43 741.91 445.20 735.23C450.97 728.54 456.73 787.53 462.50 799.05C468.27 810.57 474.03 797.00 479.80 804.37C485.57 811.73 491.33 837.92 497.10 843.23C502.87 848.55 508.63 852.92 514.40 836.28C520.17 819.64 525.93 747.77 531.70 743.41C537.47 739.05 543.23 791.21 549.00 810.10C554.77 828.98 560.53 850.39 566.30 856.74C572.07 863.08 577.83 851.42 583.60 848.14C589.37 844.87 595.13 840.78 600.90 837.10C606.67 833.42 612.43 832.05 618.20 826.05C623.97 820.05 629.73 804.30 635.50 801.10C641.27 797.89 647.03 805.60 652.80 806.82C658.57 808.05 664.33 808.87 670.10 808.46C675.87 808.05 681.63 807.50 687.40 804.37C693.17 801.23 698.93 796.66 704.70 789.64C710.47 782.62 716.23 764.68 722.00 762.23C727.77 759.77 733.53 775.59 739.30 774.91C745.07 774.23 750.83 753.77 756.60 758.14C762.37 762.50 768.13 795.98 773.90 801.10C779.67 806.21 785.43 781.93 791.20 788.82C796.97 795.71 802.73 833.76 808.50 842.42C814.27 851.08 820.03 842.89 825.80 840.78C831.57 838.67 837.33 834.03 843.10 829.73C848.87 825.44 854.63 816.03 860.40 815.01C866.17 813.98 871.93 819.78 877.70 823.60C883.47 827.42 889.23 839.76 895.00 837.92C900.77 836.07 906.53 812.48 912.30 812.55C918.07 812.62 923.83 836.55 929.60 838.33C935.37 840.10 941.13 824.62 946.90 823.19C952.67 821.76 958.43 831.78 964.20 829.73C969.97 827.69 975.73 810.30 981.50 810.91C987.27 811.53 993.03 830.48 998.80 833.42C1004.57 836.35 1010.33 832.12 1016.10 828.51C1021.87 824.89 1027.63 817.60 1033.40 811.73C1039.17 805.87 1044.93 802.73 1050.70 793.32C1056.47 783.91 1062.23 754.59 1068.00 755.27C1073.77 755.96 1079.53 794.55 1085.30 797.41C1091.07 800.28 1096.83 771.16 1102.60 772.46C1108.37 773.75 1114.13 796.32 1119.90 805.19C1125.67 814.05 1131.43 828.37 1137.20 825.64C1142.97 822.91 1148.73 790.12 1154.50 788.82C1160.27 787.53 1166.03 809.69 1171.80 817.87C1177.57 826.05 1183.33 837.23 1189.10 837.92C1194.87 838.60 1200.63 824.14 1206.40 821.96C1212.17 819.78 1217.93 823.46 1223.70 824.82C1229.47 826.19 1235.23 833.07 1241.00 830.14C1246.77 827.21 1252.53 814.53 1258.30 807.23C1264.07 799.94 1269.83 787.25 1275.60 786.37C1281.37 785.48 1287.13 801.91 1292.90 801.91C1298.67 801.91 1304.43 783.71 1310.20 786.37C1315.97 789.03 1321.73 814.39 1327.50 817.87C1333.27 821.35 1339.03 811.73 1344.80 807.23C1350.57 802.73 1356.33 795.64 1362.10 790.87C1367.87 786.09 1373.63 777.16 1379.40 778.59C1385.17 780.03 1390.93 800.62 1396.70 799.46C1402.47 798.30 1408.23 777.16 1414.00 771.64C1419.77 766.12 1425.53 768.50 1431.30 766.32C1437.07 764.14 1442.83 757.66 1448.60 758.55C1454.37 759.43 1460.13 771.84 1465.90 771.64C1471.67 771.43 1477.43 763.73 1483.20 757.32C1488.97 750.91 1494.73 741.02 1500.50 733.18C1506.27 725.34 1512.03 712.32 1517.80 710.27C1523.57 708.22 1529.33 717.43 1535.10 720.91C1540.87 724.39 1546.63 734.34 1552.40 731.14C1558.17 727.93 1563.93 709.79 1569.70 701.68C1575.47 693.56 1581.23 677.95 1587.00 682.45C1592.77 686.95 1598.53 723.43 1604.30 728.68C1610.07 733.93 1615.83 718.79 1621.60 713.95C1627.37 709.11 1633.13 703.72 1638.90 699.63C1644.67 695.54 1650.43 687.91 1656.20 689.41C1661.97 690.91 1667.73 712.52 1673.50 708.63C1679.27 704.75 1685.03 675.50 1690.80 666.09C1696.57 656.68 1702.33 655.18 1708.10 652.18C1713.87 649.18 1719.63 655.99 1725.40 648.08C1731.17 640.17 1736.93 604.92 1742.70 604.72C1748.47 604.51 1754.23 638.74 1760.00 646.86C1765.77 654.97 1771.53 653.61 1777.30 653.40C1783.07 653.20 1788.83 642.90 1794.60 645.63C1800.37 648.36 1806.13 662.13 1811.90 669.77C1817.67 677.40 1823.43 692.61 1829.20 691.45C1834.97 690.29 1840.73 667.79 1846.50 662.81C1852.27 657.84 1858.03 662.81 1863.80 661.59C1869.57 660.36 1875.33 656.54 1881.10 655.45C1886.87 654.36 1892.63 653.88 1898.40 655.04C1904.17 656.20 1909.93 669.09 1915.70 662.40C1921.47 655.72 1927.23 616.38 1933.00 614.95C1938.77 613.51 1944.53 649.18 1950.30 653.81C1956.07 658.45 1961.83 644.88 1967.60 642.77C1973.37 640.65 1979.13 640.65 1984.90 641.13C1990.67 641.61 1996.43 639.77 2002.20 645.63C2007.97 651.49 2013.73 672.36 2019.50 676.31C2025.27 680.27 2031.03 671.00 2036.80 669.36C2042.57 667.72 2048.33 667.04 2054.10 666.49C2059.87 665.95 2065.63 665.20 2071.40 666.09C2077.17 666.97 2082.93 675.22 2088.70 671.81C2094.47 668.40 2100.23 652.04 2106.00 645.63C2111.77 639.22 2117.53 637.72 2123.30 633.36C2129.07 628.99 2134.83 619.72 2140.60 619.45C2146.37 619.17 2152.13 631.24 2157.90 631.72C2163.67 632.20 2169.43 628.11 2175.20 622.31C2180.97 616.51 2186.73 593.81 2192.50 596.94C2198.27 600.08 2204.03 626.54 2209.80 641.13C2215.57 655.72 2221.33 681.15 2227.10 684.50C2232.87 687.84 2238.63 661.11 2244.40 661.18C2250.17 661.24 2255.93 683.75 2261.70 684.91C2267.47 686.06 2276.12 670.93 2279.00 668.13" stroke="#ffff4f" stroke-width="16" fill="none" stroke-linecap="round" stroke-linejoin="round" filter="url(#fline)"/>
<text x="464" y="1305.5" font-family="Carlito, 'Liberation Sans', sans-serif" font-size="28.2" fill="#f2f2f2" stroke="#f2f2f2" stroke-width="0.7" textLength="782" lengthAdjust="spacing">Data compiled by PropertyStato Chris Watkin using TwentyEA Data</text>
<rect x="612.3" y="1565" width="34.8" height="32.1" fill="url(#gbar)"/>
<text x="664" y="1598.4" font-family="Carlito, 'Liberation Sans', sans-serif" font-size="58" fill="#ffffff" textLength="710" lengthAdjust="spacing">Available UK Rental Properties</text>
<path d="M1499 1580.8H1533" stroke="#ffff4f" stroke-width="16" stroke-linecap="round"/>
<text x="1549.5" y="1594.4" font-family="Carlito, 'Liberation Sans', sans-serif" font-weight="bold" font-size="58" fill="#ffffff" textLength="402" lengthAdjust="spacing">Average UK Rent</text>
</svg></div></body></html>
